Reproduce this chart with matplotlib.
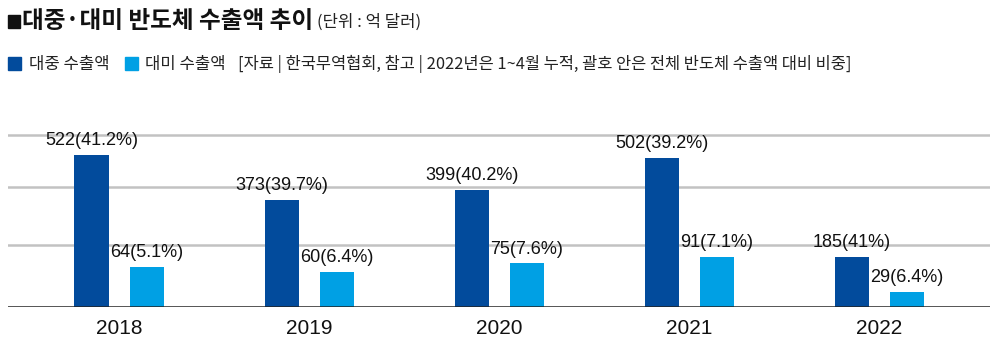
import matplotlib
matplotlib.use('Agg')
import matplotlib.pyplot as plt
import numpy as np

plt.rcParams['font.family'] = ['Liberation Sans', 'Noto Sans CJK KR', 'DejaVu Sans']
kr = ['Noto Sans CJK KR', 'DejaVu Sans']

years = ['2018', '2019', '2020', '2021', '2022']
# export amounts (억 달러) and share of total chip exports, as labelled
china_val = [522, 373, 399, 502, 185]
china_pct = ['41.2%', '39.7%', '40.2%', '39.2%', '41%']
us_val = [64, 60, 75, 91, 29]
us_pct = ['5.1%', '6.4%', '7.6%', '7.1%', '6.4%']
# bar lengths as drawn in the graphic (not to scale with the labels)
china_h = [522, 367, 402, 513, 172]
us_h = [138, 120, 149, 172, 52]
grid_lines = [212, 410, 591]

dark = '#024b9c'
light = '#00a0e4'

fig = plt.figure(figsize=(10, 3.54), dpi=100)
ax = fig.add_axes([0.008, 0.1336, 0.982, 0.584])

x = np.arange(len(years)) * 190
w = 34.5
off = 27.6
ax.bar(x - off, china_h, w, color=dark, zorder=3)
ax.bar(x + off, us_h, w, color=light, zorder=3)

for xi, h, v, p in zip(x - off, china_h, china_val, china_pct):
    ax.annotate(f'{v}({p})', (xi, h), xytext=(0, 4), textcoords='offset points',
                ha='center', va='bottom', fontsize=13, color='#111111', zorder=4)
for xi, h, v, p in zip(x + off, us_h, us_val, us_pct):
    ax.annotate(f'{v}({p})', (xi, h), xytext=(0, 4), textcoords='offset points',
                ha='center', va='bottom', fontsize=13, color='#111111', zorder=4)

for g in grid_lines:
    ax.axhline(g, color='#c2c2c2', lw=1.8, zorder=1)
ax.axhline(0, color='#222222', lw=1.8, zorder=5)

ax.set_xlim(x[0] - 111.3, x[-1] + 110.5)
ax.set_ylim(0, 711)
ax.set_xticks(x)
ax.set_xticklabels(years, fontsize=15, color='#111111')
ax.tick_params(axis='x', length=0, pad=9)
ax.set_yticks([])
for s in ax.spines.values():
    s.set_visible(False)

# title
fig.patches.append(plt.Rectangle((0.008, 0.921), 0.012, 0.037, transform=fig.transFigure,
                                 color='#111111', figure=fig))
fig.text(0.022, 0.941, '대중·대미 반도체 수출액 추이', fontsize=17, fontweight='bold',
         family=kr, va='center', color='#111111')
fig.text(0.317, 0.936, '(단위 : 억 달러)', fontsize=12, family=kr, va='center', color='#222222')

# legend row
ky = 0.818
fig.patches.append(plt.Rectangle((0.008, 0.802), 0.013, 0.037, transform=fig.transFigure,
                                 color=dark, figure=fig))
fig.text(0.029, ky, '대중 수출액', fontsize=12, family=kr, va='center', color='#222222')
fig.patches.append(plt.Rectangle((0.125, 0.802), 0.013, 0.037, transform=fig.transFigure,
                                 color=light, figure=fig))
fig.text(0.145, ky, '대미 수출액', fontsize=12, family=kr, va='center', color='#222222')
fig.text(0.238, ky, '[자료 | 한국무역협회, 참고 | 2022년은 1~4월 누적, 괄호 안은 전체 반도체 수출액 대비 비중]',
         fontsize=11.85, family=kr, va='center', color='#222222')

fig.savefig('out.png', dpi=100)
